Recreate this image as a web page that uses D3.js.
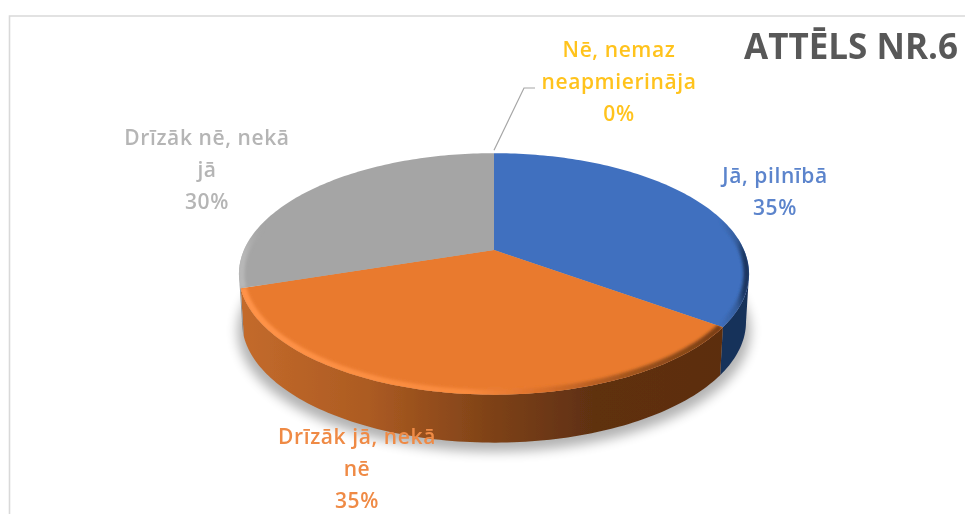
<!DOCTYPE html>
<html>
<head>
<meta charset="utf-8">
<script src="https://cdn.jsdelivr.net/npm/d3@7"></script>
<style>
  html, body { margin: 0; padding: 0; background: #fff; }
  svg { display: block; }
  text { font-family: "Open Sans", "Noto Sans", sans-serif; text-anchor: middle; }
</style>
</head>
<body>
<div id="chart"></div>
<script>
// Chart data
const categories = ['Jā, pilnībā', 'Drīzāk jā, nekā nē', 'Drīzāk nē, nekā jā', 'Nē, nemaz neapmierināja'];
const values = [35, 35, 30, 0];
const labelLines = [['Jā, pilnībā'], ['Drīzāk jā, nekā', 'nē'], ['Drīzāk nē, nekā', 'jā'], ['Nē, nemaz', 'neapmierināja']];
const titleText = 'ATTĒLS NR.6';

// Styles and layout, per category
const topColors = ['#4070bf', '#e97a2e', '#a5a5a5', '#ffc000'];
const labelColors = ['#5b84cc', '#ef8a45', '#b5b5b5', '#ffc31f'];
const labelAnchors = [[775, 183], [357, 444], [207, 145], [619, 57]];
const lineGap = 32;

const W = 965, H = 514;
// Pie apex and the perspective of the tilted disc
const cx = 494, cy = 250;
const radiusX = 250, radiusY = 116, persp = 0.198, depth = 48;
const silhouette = Math.acos(-persp);

const svg = d3.select('#chart').append('svg')
  .attr('width', W)
  .attr('height', H);

const defs = svg.append('defs');
[['soft', 0.7], ['rimBlur', 1.6], ['shadowBlur', 6]].forEach(([id, dev]) => {
  defs.append('filter').attr('id', id)
    .attr('x', '-10%').attr('y', '-10%').attr('width', '120%').attr('height', '120%')
    .append('feGaussianBlur').attr('stdDeviation', dev);
});

function hGradient(id, stops) {
  const g = defs.append('linearGradient').attr('id', id)
    .attr('gradientUnits', 'userSpaceOnUse')
    .attr('x1', cx - radiusX).attr('x2', cx + radiusX).attr('y1', 0).attr('y2', 0);
  stops.forEach(s => g.append('stop').attr('offset', s[0]).attr('stop-color', s[1]).attr('stop-opacity', s[2] === undefined ? 1 : s[2]));
}
hGradient('wallOrange', [[0, '#c36a2b'], [0.25, '#ac5b22'], [0.5, '#7d4117'], [0.7, '#5f3011'], [1, '#5c2e10']]);
hGradient('rimOrange', [[0, '#ff9348'], [0.45, '#f98a3d'], [0.6, '#d96f2a'], [0.8, '#98501c'], [1, '#6f3812']]);
hGradient('rimBlue', [[0.95, '#2f5690', 0], [0.985, '#2f5690', 0.7], [1, '#1c3560']]);
hGradient('rimGray', [[0, '#bcbcbc', 0.8], [0.04, '#a5a5a5', 0]]);

// Project an angle (clockwise from the top) and radius onto the tilted disc
function project(angle, r = 1, dy = 0, shrink = 1) {
  const w = 1 + persp * r * Math.cos(angle);
  return [
    cx + shrink * radiusX * r * Math.sin(angle) / w,
    cy + dy + radiusY * -r * Math.cos(angle) / w
  ];
}

function arcPoints(a0, a1, r = 1, dy = 0, shrink = 1) {
  const n = Math.max(2, Math.ceil(Math.abs(a1 - a0) / 0.02));
  return d3.range(n + 1).map(i => project(a0 + (a1 - a0) * i / n, r, dy, shrink));
}

const line = d3.line();
const pie = d3.pie().sort(null).value(d => d)(values);

const root = svg.append('g').attr('filter', 'url(#soft)');

// Chart frame
root.append('path')
  .attr('d', line([[9.5, H], [9.5, 16], [W, 16]]))
  .attr('fill', 'none')
  .attr('stroke', '#d9d9d9')
  .attr('stroke-width', 1.6);

// Shadow below the pie
root.append('path')
  .attr('d', line(arcPoints(0, 2 * Math.PI, 1, depth + 9, 1.005)) + 'Z')
  .attr('fill', '#000')
  .attr('opacity', 0.3)
  .attr('filter', 'url(#shadowBlur)');

// Side walls, only the part of each slice facing the viewer
const wallFills = ['#17305a', 'url(#wallOrange)', '#8e8e8e', '#ffc000'];
pie.forEach((d, i) => {
  const a0 = Math.max(d.startAngle, silhouette);
  const a1 = Math.min(d.endAngle, 2 * Math.PI - silhouette);
  if (a1 <= a0) return;
  const pts = arcPoints(a0, a1).concat(arcPoints(a1, a0, 1, depth, 0.988));
  root.append('path').attr('d', line(pts) + 'Z').attr('fill', wallFills[i]);
});

// Top faces
const topPath = d => line([[cx, cy]].concat(arcPoints(d.startAngle, d.endAngle))) + 'Z';
pie.forEach((d, i) => {
  if (d.endAngle <= d.startAngle) return;
  defs.append('clipPath').attr('id', `slice${i}`).append('path').attr('d', topPath(d));
  root.append('path').attr('d', topPath(d)).attr('fill', topColors[i]);
});

// Bevel along the outer edge of each top face
const rimStrokes = ['url(#rimBlue)', 'url(#rimOrange)', 'url(#rimGray)'];
pie.forEach((d, i) => {
  if (d.endAngle <= d.startAngle) return;
  root.append('g').attr('clip-path', `url(#slice${i})`)
    .append('path')
    .attr('d', line(arcPoints(d.startAngle, d.endAngle, 0.992)))
    .attr('fill', 'none')
    .attr('stroke', rimStrokes[i])
    .attr('stroke-width', 7)
    .attr('filter', 'url(#rimBlur)');
});

// Leader line for the 0% slice
const zeroTop = project(pie[3].startAngle);
root.append('path')
  .attr('d', line([[zeroTop[0], zeroTop[1] - 3], [524, 88], [535, 88]]))
  .attr('fill', 'none')
  .attr('stroke', '#a6a6a6')
  .attr('stroke-width', 1.2);

// Labels
categories.forEach((c, i) => {
  const [lx, ly] = labelAnchors[i];
  const t = root.append('text')
    .attr('fill', labelColors[i])
    .style('font-size', '21px')
    .style('font-weight', 600)
    .style('letter-spacing', '0.6px');
  labelLines[i].concat(`${values[i]}%`).forEach((s, j) => {
    t.append('tspan').attr('x', lx).attr('y', ly + j * lineGap).text(s);
  });
});

// Title
root.append('text')
  .attr('x', 851)
  .attr('y', 59)
  .attr('fill', '#595959')
  .style('font-size', '35px')
  .style('font-weight', 700)
  .text(titleText);
</script>
</body>
</html>
